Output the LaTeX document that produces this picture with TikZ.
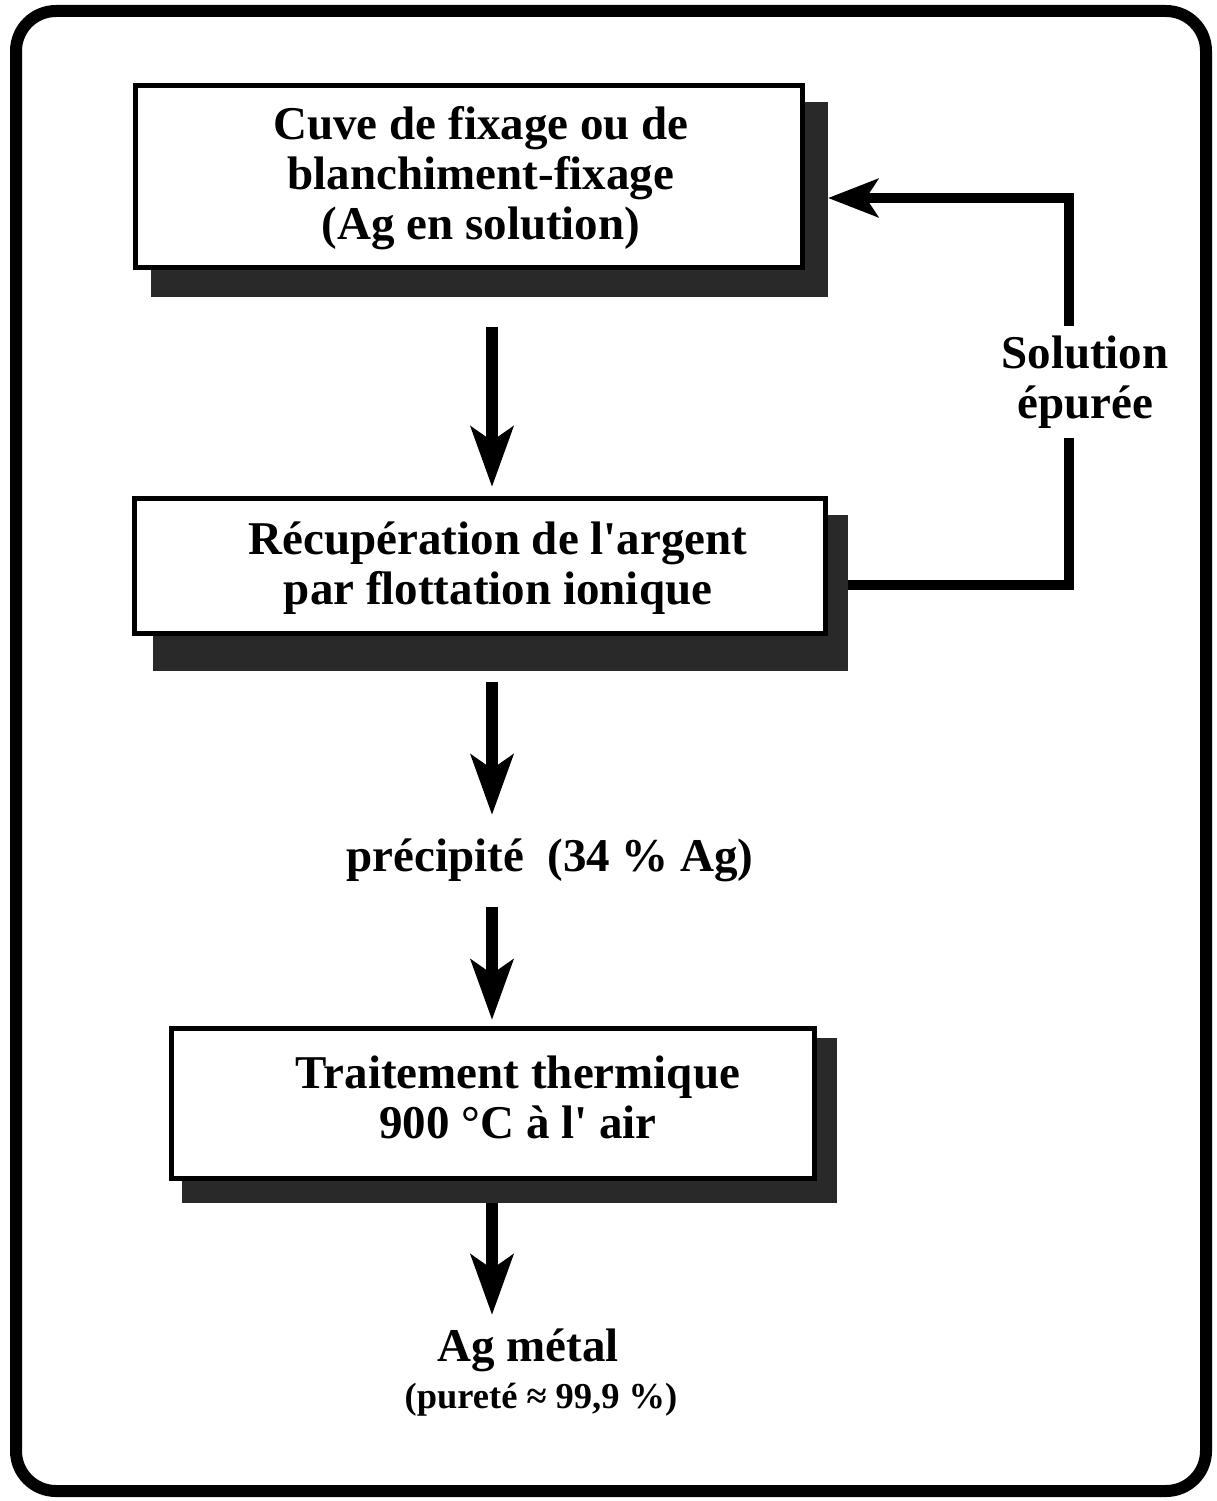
\documentclass[tikz,border=0pt]{standalone}
\usepackage{fontspec}
\setmainfont{Liberation Serif}
\usetikzlibrary{arrows.meta}
\definecolor{shade}{gray}{0.16}
\tikzset{
 shadowbox/.style={fill=shade, draw=none, inner sep=0pt, outer sep=0pt},
 boxframe/.style={draw=black, line width=5pt, fill=white, inner sep=0pt, outer sep=0pt},
 lbl/.style={font=\bfseries\fontsize{47}{50}\selectfont, align=center, inner sep=0pt},
 smalllbl/.style={font=\bfseries\fontsize{36.5}{40}\selectfont, align=center, inner sep=0pt},
 varrow/.style={line width=12pt, -{Stealth[length=60pt,width=42pt,inset=14pt]}},
 fbarrow/.style={line width=10pt, line join=miter, -{Stealth[length=50pt,width=38pt,inset=12pt]}},
}
\begin{document}
\begin{tikzpicture}[x=1pt,y=-1pt]
\useasboundingbox (0,0) rectangle (1216,1501);
% outer frame
\draw[line width=12pt, rounded corners=40pt] (16,11) rectangle (1206,1491);

% box 1
\node[shadowbox, minimum width=677pt, minimum height=195pt] (sh1) at (489.5,199.5) {};
\node[boxframe, minimum width=667pt, minimum height=182pt] (box1) at (469,176.5) {};
\node[lbl] (t1) at (481,178) {Cuve de fixage ou de\\blanchiment-fixage\\(Ag en solution)};

% box 2
\node[shadowbox, minimum width=695pt, minimum height=156pt] (sh2) at (500.5,593) {};
\node[boxframe, minimum width=691pt, minimum height=135pt] (box2) at (480,566) {};
\node[lbl] (t2) at (498,568) {Récupération de l\textquotesingle argent\\par flottation ionique};

% box 3
\node[shadowbox, minimum width=655pt, minimum height=165pt] (sh3) at (509.5,1120.5) {};
\node[boxframe, minimum width=643pt, minimum height=150pt] (box3) at (492.5,1103.5) {};
\node[lbl] (t3) at (518,1097) {Traitement thermique\\900 °C à l\textquotesingle{} air};

% free texts
\node[lbl] (prec) at (550,860) {précipité\ \ (34 \% Ag)};
\node[lbl] (agm) at (528,1350) {Ag métal};
\node[smalllbl] (pur) at (541,1400) {(pureté ≈ 99,9 \%)};

% vertical arrows
\coordinate (a1s) at (492,327);
\coordinate (a1e) at (492,487);
\coordinate (a2s) at (492,682);
\coordinate (a2e) at (492,815);
\coordinate (a3s) at (492,907);
\coordinate (a3e) at (492,1020);
\coordinate (a4s) at (492,1203);
\coordinate (a4e) at (492,1315);
\draw[varrow] (a1s) -- (a1e);
\draw[varrow] (a2s) -- (a2e);
\draw[varrow] (a3s) -- (a3e);
\draw[varrow] (a4s) -- (a4e);

% feedback loop
\coordinate (fbtop) at (1069,198);
\draw[fbarrow] ([yshift=8pt]sh2.east) -| (fbtop) -- (fbtop -| sh1.east);
\node[lbl, fill=white, inner xsep=4pt, inner ysep=10pt] (sol) at (1085,382) {Solution\\épurée};
\end{tikzpicture}
\end{document}
